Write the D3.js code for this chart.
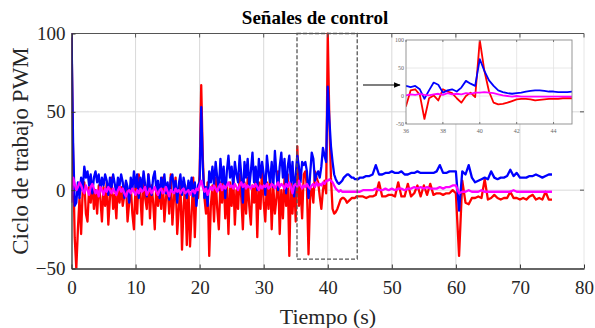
<!DOCTYPE html>
<html><head><meta charset="utf-8">
<script src="https://cdn.jsdelivr.net/npm/d3@7"></script>
<style>
html,body{margin:0;padding:0;background:#fff;}
svg{display:block;}
svg text{font-family:"Liberation Serif","Times New Roman","DejaVu Serif",serif !important;}
</style></head>
<body><svg id="c" width="595" height="328"></svg>
<script>
// ---------- data ----------
const timeDense = d3.range(0, 45, 0.25);      // 0 .. 44.75 s
const timeSparse = d3.range(45, 75.001, 0.5); // 45 .. 75 s

const redDense = [
 100,20,-30,-50, -25,-5,-28,0, 5,-15,-20,2, -8,5,-12,0, -15,3,-5,-20,
 2,-10,5,-22, -5,8,-12,-3, -18,5,-8,2, -10,-3,5,-20, -8,3,-15,-25,
 5,-15,10,-3, -22,8,-5,-12, 10,-18,3,-8, -25,5,-10,2, -12,8,-20,-5,
 3,-15,10,-22, -5,8,-28,-12, 5,-38,-10,3, -35,2,-36,-15, 8,-30,0,-5,
 10,67,20,-5, -15,5,-42,-10, 3,-20,8,-12, -25,5,-8,10, -18,2,-28,5,
 -10,8,-22,0, -12,10,-5,-25, 5,-15,8,-10, -22,3,-8,10, -30,5,-12,15,
 -8,-20,5,-12, 10,-25,3,-15, -5,12,-28,0, -18,8,-10,10, -42,5,-15,8,
 -20,28,-10,2, -18,10,12,2, -41,-4,1,-8, 12,8,5,-4, -12,0,6,-2,
 100,45,8,-12, -15,-14,-12,-9, -6,-5,-5,-6, -8,-7,-6,-5, -5,-5,-4,-4
];
const blueDense = [
 100,30,-10,-8, 5,-5,8,0, 15,8,12,3, 10,-2,8,12, 5,10,0,8,
 3,10,6,-3, 8,2,10,4, -2,8,3,10, 5,-5,6,2, -8,8,0,12,
 2,10,-5,8, 0,12,3,-4, 10,2,-3,8, 12,0,6,-5, 8,2,10,-2,
 5,-6,8,10, 0,6,-8,4, 10,-3,8,2, -5,6,0,8, -4,5,-10,3,
 5,53,15,-5, 2,-10,12,5, 15,3,18,8, 0,20,5,15, -5,12,22,8,
 15,2,18,10, 5,22,10,-8, 18,8,20,2, 12,24,5,15, 0,20,8,18,
 10,-3,22,12, 5,18,2,25, 10,0,15,24, 8,20,-2,15, 22,5,18,-4,
 10,22,15,5, 18,16,18,12, -5,10,24,20, 6,10,12,8, 15,27,22,18,
 66,45,28,18, 10,7,5,4, 5,6,8,9, 10,10,9,8, 8,7,7,7
];
const magentaDense = [
 -8,8,4,0, 2,5,3,0, -2,3,0,-3, 2,4,1,-2, 0,-4,2,0,
 -3,1,-1,2, 0,-2,1,-1, -3,0,2,-1, 1,-2,-4,-1, 0,-2,1,-1,
 -3,0,-2,1, -1,0,2,-3, -1,1,-2,0, 2,-1,-3,0, 1,-2,-1,2,
 -1,-4,0,-1, -2,1,-1,0, -2,0,1,-2, -1,0,-3,-1, 0,-2,1,0,
 3,6,2,-1, 1,-3,0,2, 0,3,1,-1, 2,4,0,3, 1,3,5,2,
 3,1,4,2, 0,3,5,2, 4,1,3,2, 1,3,2,4, 2,0,3,1,
 3,2,4,1, 2,4,3,1, 3,5,2,4, 3,1,4,2, 5,2,-2,3,
 4,2,6,3, 1,3,2,4, 2,1,3,4, 2,5,3,4, 3,5,4,6,
 6,7,6,5, 3,1,0,-1, 0,-1,-1,-1, -1,-1,-1,-1, -1,-1,-1,-1
];
const redSparse = [
 -4,-4,-5,-4,-4,-3,5,-4,-4,-3, -3,-4,5,-4,-4,4,-4,-2,3,-4,
 3,-3,4,-3,-2,-2,-3,-2,-2,0, -2,-42,6,-8,-9,-5,-5,-4,-5,7,
 -6,-5,-3,-5,-6,-5,-5,-1,-5,-5, -6,-5,-6,-4,-3,-6,-5,-6,-1,-6, -6
];
const blueSparse = [
 8,8,9,9,10,16,10,10,11,11, 12,11,11,12,10,10,11,11,12,11,
 11,11,11,11,12,16,11,11,12,12, 12,-13,12,10,16,8,5,6,7,8,
 7,12,8,7,8,8,9,13,9,11, 8,8,8,9,9,10,9,8,9,10, 10
];
const magentaSparse = [
 -1,0,0,0,0,1,0,0,1,0, 1,0,1,1,0,1,1,2,1,2,
 1,2,1,1,1,2,1,2,2,3, 3,-2,-1,-1,0,-1,-1,-1,0,-1,
 -1,-1,-1,-1,-1,-1,-1,-1,0,-1, -1,-1,-1,-1,-1,-1,-1,-1,-1,-1, -1
];

const xTicks = [0,10,20,30,40,50,60,70,80];
const yTicks = [-50,0,50,100];
const insetXTicks = [36,38,40,42,44];
const insetYTicks = [-50,0,50,100];
const titleText = "Señales de control";
const xLabel = "Tiempo (s)";
const yLabel = "Ciclo de trabajo PWM";
const zoomBox = {x0:35.2, x1:44.6, y0:-44, y1:100};

// ---------- build series ----------
const times = timeDense.concat(timeSparse);
function mk(a,b){ return a.concat(b).map((v,i)=>({t:times[i], v})); }
const series = [
  {color:"#ff0000", data: mk(redDense, redSparse)},
  {color:"#0000ff", data: mk(blueDense, blueSparse)},
  {color:"#ff00ff", data: mk(magentaDense, magentaSparse)}
];

const svg = d3.select("#c");
const L=71.5, R=584, T=33.5, B=268.5;
const x = d3.scaleLinear([0,80],[L,R]);
const y = d3.scaleLinear([-50,100],[B,T]);

// grid
const grid = svg.append("g").attr("stroke","#d9d9d9").attr("stroke-width",1);
xTicks.filter(d=>d>0&&d<80).forEach(d=>grid.append("line").attr("x1",x(d)).attr("x2",x(d)).attr("y1",T).attr("y2",B));
yTicks.filter(d=>d>-50&&d<100).forEach(d=>grid.append("line").attr("x1",L).attr("x2",R).attr("y1",y(d)).attr("y2",y(d)));

// right border (light) + top border
svg.append("line").attr("x1",R).attr("x2",R).attr("y1",T).attr("y2",B).attr("stroke","#e6e6e6");
svg.append("line").attr("x1",L).attr("x2",R).attr("y1",T).attr("y2",T).attr("stroke","#555").attr("stroke-width",1.2);

// clip
svg.append("clipPath").attr("id","mainclip").append("rect").attr("x",L).attr("y",T-1).attr("width",R-L).attr("height",B-T+1);
const line = d3.line().x(d=>x(d.t)).y(d=>y(d.v));
const gl = svg.append("g").attr("clip-path","url(#mainclip)");
series.forEach(s=>gl.append("path").attr("d",line(s.data)).attr("fill","none")
  .attr("stroke",s.color).attr("stroke-width",2.3).attr("stroke-linejoin","round"));

// axes
const ax = svg.append("g").attr("transform",`translate(0,${B})`)
  .call(d3.axisBottom(x).tickValues(xTicks).tickSizeInner(-4).tickSizeOuter(0).tickPadding(12));
const ay = svg.append("g").attr("transform",`translate(${L},0)`)
  .call(d3.axisLeft(y).tickValues(yTicks).tickSizeInner(-4).tickSizeOuter(0).tickPadding(6));
[ax,ay].forEach(g=>{
  g.attr("font-family",null);
  g.select(".domain").attr("stroke","#333").attr("stroke-width",1.3);
  g.selectAll(".tick line").attr("stroke","#333");
  g.selectAll("text").attr("font-size",19).attr("fill","#262626");
});
// top & right ticks
xTicks.forEach(d=>svg.append("line").attr("x1",x(d)).attr("x2",x(d)).attr("y1",T).attr("y2",T+4).attr("stroke","#555"));
yTicks.forEach(d=>svg.append("line").attr("x1",R).attr("x2",R-4).attr("y1",y(d)).attr("y2",y(d)).attr("stroke","#555"));

// dashed zoom box
svg.append("rect").attr("x",x(zoomBox.x0)).attr("y",y(zoomBox.y1))
  .attr("width",x(zoomBox.x1)-x(zoomBox.x0)).attr("height",y(zoomBox.y0)-y(zoomBox.y1))
  .attr("fill","none").attr("stroke","#555").attr("stroke-width",1.3).attr("stroke-dasharray","4,2");

// inset
const iL=406, iR=572, iT=40, iB=124;
const xi = d3.scaleLinear([36,45],[iL,iR]);
const yi = d3.scaleLinear([-50,100],[iB,iT]);
svg.append("rect").attr("x",iL).attr("y",iT).attr("width",iR-iL).attr("height",iB-iT).attr("fill","#fff");
const ig = svg.append("g").attr("stroke","#e2e2e2").attr("stroke-width",0.8);
insetXTicks.filter(d=>d>36).forEach(d=>ig.append("line").attr("x1",xi(d)).attr("x2",xi(d)).attr("y1",iT).attr("y2",iB));
insetYTicks.filter(d=>d>-50&&d<100).forEach(d=>ig.append("line").attr("x1",iL).attr("x2",iR).attr("y1",yi(d)).attr("y2",yi(d)));
svg.append("clipPath").attr("id","iclip").append("rect").attr("x",iL).attr("y",iT).attr("width",iR-iL).attr("height",iB-iT);
const lineI = d3.line().x(d=>xi(d.t)).y(d=>yi(d.v));
const gi = svg.append("g").attr("clip-path","url(#iclip)");
series.forEach(s=>gi.append("path").attr("d",lineI(s.data.filter(d=>d.t>=35.5&&d.t<=45.5))).attr("fill","none")
  .attr("stroke",s.color).attr("stroke-width",1.8).attr("stroke-linejoin","round"));
svg.append("rect").attr("x",iL).attr("y",iT).attr("width",iR-iL).attr("height",iB-iT)
  .attr("fill","none").attr("stroke","#8a8a8a").attr("stroke-width",0.9);
insetXTicks.forEach(d=>{
  svg.append("line").attr("x1",xi(d)).attr("x2",xi(d)).attr("y1",iB).attr("y2",iB-2).attr("stroke","#777");
  svg.append("line").attr("x1",xi(d)).attr("x2",xi(d)).attr("y1",iT).attr("y2",iT+2).attr("stroke","#777");
  svg.append("text").attr("x",xi(d)).attr("y",iB+9).attr("text-anchor","middle")
    .attr("font-size",6).attr("fill","#666").text(d);
});
insetYTicks.forEach(d=>{
  svg.append("text").attr("x",iL-2).attr("y",yi(d)+2).attr("text-anchor","end")
    .attr("font-size",6).attr("fill","#666").text(d);
});

// arrow
const defs = svg.append("defs");
defs.append("marker").attr("id","ah").attr("viewBox","0 0 10 10").attr("refX",9).attr("refY",5)
  .attr("markerWidth",6).attr("markerHeight",6).attr("orient","auto")
  .append("path").attr("d","M0,1 L10,5 L0,9 Z").attr("fill","#000");
svg.append("line").attr("x1",363).attr("x2",400).attr("y1",85).attr("y2",85)
  .attr("stroke","#000").attr("stroke-width",1.1).attr("marker-end","url(#ah)");

// texts
svg.append("text").attr("x",315).attr("y",24).attr("text-anchor","middle")
  .attr("font-size",19).attr("font-weight","bold").attr("fill","#000").text(titleText);
svg.append("text").attr("x",328).attr("y",324).attr("text-anchor","middle")
  .attr("font-size",22).attr("fill","#262626").text(xLabel);
svg.append("text").attr("transform","translate(28,151) rotate(-90)").attr("text-anchor","middle")
  .attr("font-size",23).attr("fill","#262626").text(yLabel);
</script></body></html>
